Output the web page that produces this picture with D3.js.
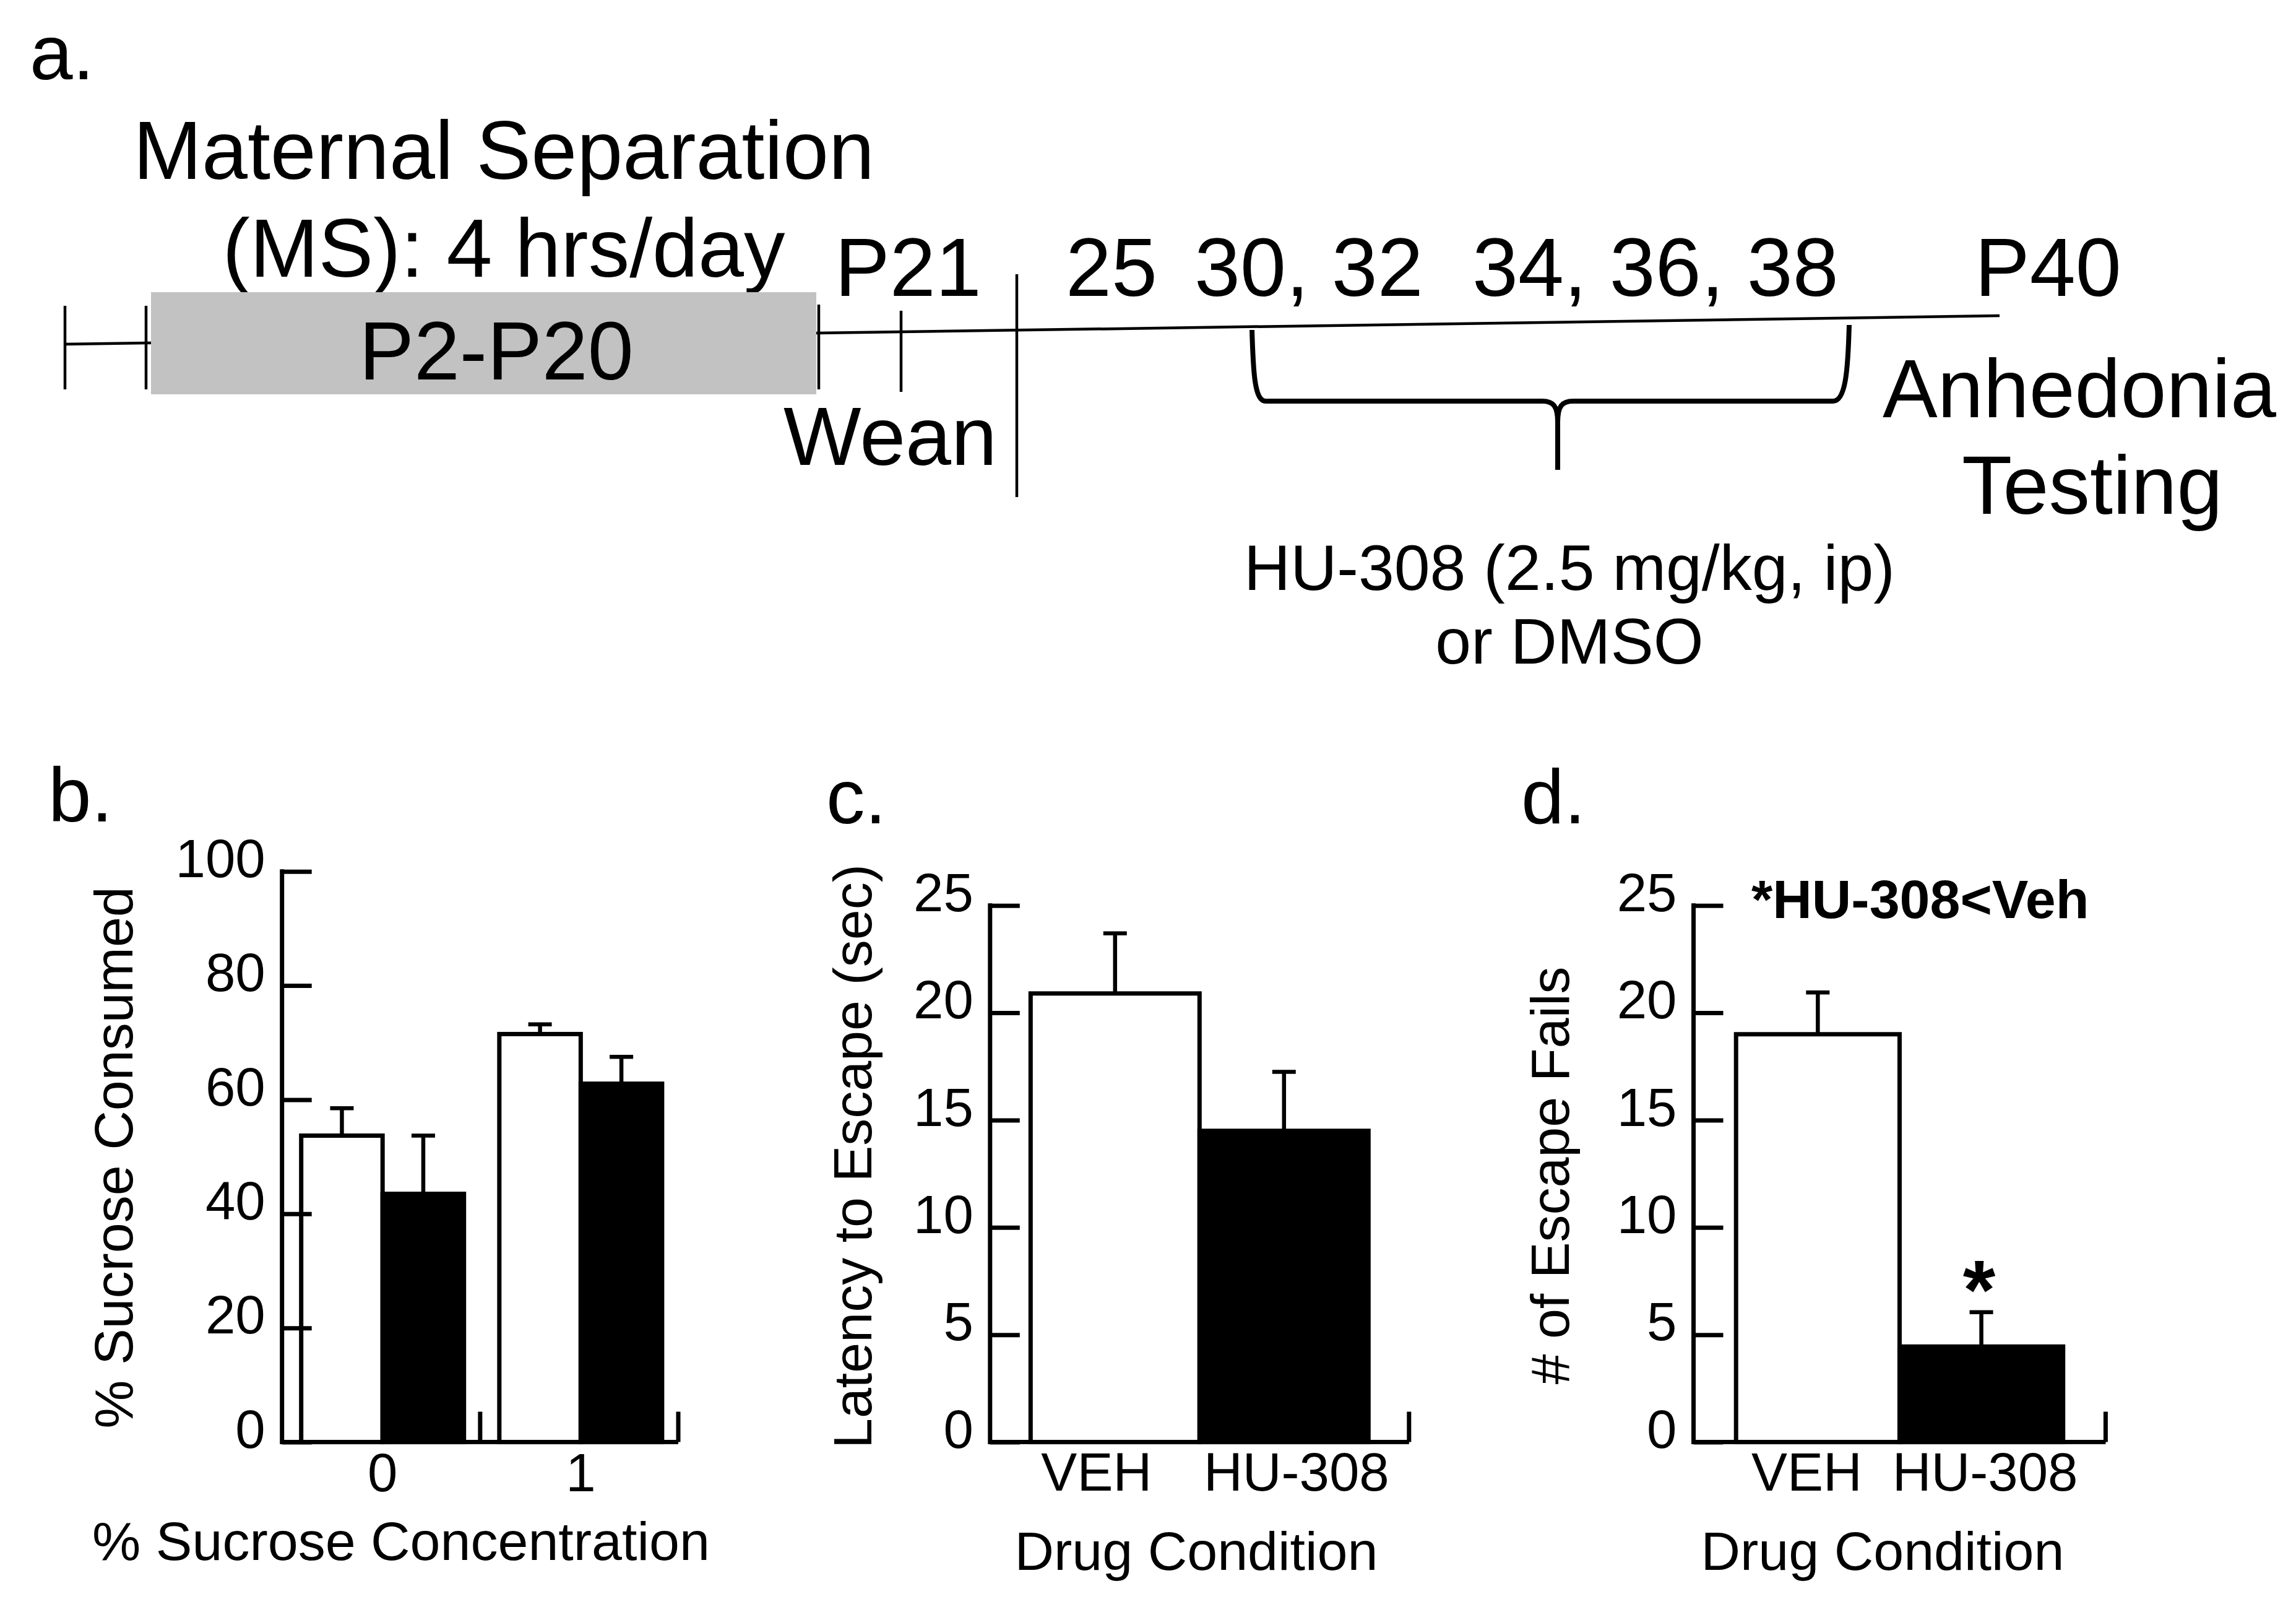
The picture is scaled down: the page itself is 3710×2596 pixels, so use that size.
<!DOCTYPE html>
<html>
<head>
<meta charset="utf-8">
<script src="https://cdn.jsdelivr.net/npm/d3@7"></script>
<style>
  body { margin: 0; background: #fff; }
  text { font-family: "Liberation Sans", Arial, Helvetica, sans-serif; fill: #000; }
</style>
</head>
<body>
<svg id="fig"></svg>
<script>
// ---- data ----
// b. sucrose preference
var sucroseConc = ["0", "1"];
var sucroseGroups = ["VEH", "HU-308"];
var sucroseMean = [[53.7, 43.5], [71.5, 62.8]];
var sucroseErr = [[4.8, 10.2], [1.7, 4.7]];
var sucroseTicks = [0, 20, 40, 60, 80, 100];

// c. latency to escape, d. escape fails
var drugConds = ["VEH", "HU-308"];
var latencyMean = [20.9, 14.5];
var latencyErr = [2.8, 2.75];
var failsMean = [19.0, 4.45];
var failsErr = [1.95, 1.6];
var escapeTicks = [0, 5, 10, 15, 20, 25];

// a. timeline labels
var dayLabels = ["P21", "25", "30, 32", "34, 36, 38", "P40"];
var msLines = ["Maternal Separation", "(MS): 4 hrs/day"];
var testLines = ["Anhedonia", "Testing"];
var drugLines = ["HU-308 (2.5 mg/kg, ip)", "or DMSO"];

var FONT = "'Liberation Sans', Arial, Helvetica, sans-serif";
var STROKE = 7;
var svg = d3.select("#fig").attr("width", 3710).attr("height", 2596);

// ---------------- panel a: timeline ----------------
var a = svg.append("g");

a.append("text").attr("x", 48).attr("y", 128).attr("font-size", 125).text("a.");

// the main line runs slightly uphill
a.append("line").attr("x1", 105).attr("y1", 556).attr("x2", 3231).attr("y2", 510)
  .attr("stroke", "#000").attr("stroke-width", 4.5);

// separation text (box is drawn over its descenders)
a.selectAll(".ms").data(msLines).enter().append("text")
  .attr("x", 814).attr("y", function(d, i) { return i == 0 ? 289 : 447; })
  .attr("text-anchor", "middle").attr("font-size", 133).text(function(d) { return d; });

a.append("rect").attr("x", 244).attr("y", 472).attr("width", 1075).attr("height", 165)
  .attr("fill", "#c2c2c2");
a.append("text").attr("x", 802).attr("y", 613).attr("text-anchor", "middle")
  .attr("font-size", 133).text("P2-P20");

// vertical marks on the timeline
var marks = [[105, 494, 629], [236, 494, 629], [1323, 492, 629], [1456, 502, 633], [1643, 443, 803]];
a.selectAll(".mark").data(marks).enter().append("line")
  .attr("x1", function(d) { return d[0]; }).attr("x2", function(d) { return d[0]; })
  .attr("y1", function(d) { return d[1]; }).attr("y2", function(d) { return d[2]; })
  .attr("stroke", "#000").attr("stroke-width", 4.5);

var dayX = [1349, 1722, 1930, 2379, 3191];
a.selectAll(".day").data(dayLabels).enter().append("text")
  .attr("x", function(d, i) { return dayX[i]; }).attr("y", 478)
  .attr("font-size", 133).text(function(d) { return d; });

a.append("text").attr("x", 1266).attr("y", 751).attr("font-size", 133).text("Wean");

a.selectAll(".test").data(testLines).enter().append("text")
  .attr("x", function(d, i) { return i == 0 ? 3042 : 3170; })
  .attr("y", function(d, i) { return i == 0 ? 674 : 830; })
  .attr("font-size", 133).text(function(d) { return d; });

// injection bracket
var br = d3.path();
br.moveTo(2023, 533);
br.bezierCurveTo(2025, 600, 2027, 648, 2045, 648);
br.lineTo(2492, 648);
br.bezierCurveTo(2510, 648, 2517, 656, 2517, 682);
br.lineTo(2517, 759);
br.moveTo(2517, 682);
br.bezierCurveTo(2517, 656, 2524, 648, 2542, 648);
br.lineTo(2962, 648);
br.bezierCurveTo(2982, 648, 2986, 600, 2988, 525);
a.append("path").attr("d", br.toString()).attr("fill", "none")
  .attr("stroke", "#000").attr("stroke-width", 8);

a.selectAll(".drug").data(drugLines).enter().append("text")
  .attr("x", 2536).attr("y", function(d, i) { return i == 0 ? 953 : 1072; })
  .attr("text-anchor", "middle").attr("font-size", 104).text(function(d) { return d; });

// ---------------- shared axis helper ----------------
function drawAxes(g, y, x0, xEnd, ticks, upticks) {
  var y0 = y.range()[0], yTop = y.range()[1];
  var ax = g.append("g").attr("transform", "translate(" + x0 + ",0)")
    .call(d3.axisLeft(y).tickValues(ticks).tickSize(-48).tickPadding(27).tickSizeOuter(0));
  ax.select(".domain").remove();
  ax.attr("font-size", 87).attr("font-family", FONT);
  ax.selectAll(".tick line").attr("stroke", "#000").attr("stroke-width", STROKE);
  ax.selectAll(".tick text").attr("dy", "0.1em").attr("fill", "#000");

  var p = d3.path();
  p.moveTo(x0, yTop - STROKE / 2);
  p.lineTo(x0, y0);
  p.lineTo(xEnd, y0);
  upticks.forEach(function(u) { p.moveTo(u, y0); p.lineTo(u, y0 - 49); });
  g.append("path").attr("d", p.toString()).attr("fill", "none")
    .attr("stroke", "#000").attr("stroke-width", STROKE);
}

function errBar(g, cx, yTop, yErr) {
  g.append("line").attr("x1", cx).attr("x2", cx).attr("y1", yTop).attr("y2", yErr)
    .attr("stroke", "#000").attr("stroke-width", 6.5);
  g.append("line").attr("x1", cx - 19).attr("x2", cx + 19).attr("y1", yErr).attr("y2", yErr)
    .attr("stroke", "#000").attr("stroke-width", 6.5);
}

var fills = ["#fff", "#000"];

// ---------------- panel b ----------------
var b = svg.append("g");
b.append("text").attr("x", 78).attr("y", 1327).attr("font-size", 125).text("b.");

var yB = d3.scaleLinear().domain([0, 100]).range([2329.6, 1407.7]);
var xB = d3.scaleBand().domain(sucroseConc).range([455.7, 1096]);
var xBsub = d3.scaleBand().domain(sucroseGroups).range([31, 294]);

sucroseConc.forEach(function(c, gi) {
  sucroseGroups.forEach(function(s, si) {
    var bx = xB(c) + xBsub(s);
    errBar(b, bx + xBsub.bandwidth() / 2, yB(sucroseMean[gi][si]), yB(sucroseMean[gi][si] + sucroseErr[gi][si]));
    b.append("rect").attr("x", bx).attr("y", yB(sucroseMean[gi][si]))
      .attr("width", xBsub.bandwidth()).attr("height", yB(0) - yB(sucroseMean[gi][si]))
      .attr("fill", fills[si]).attr("stroke", "#000").attr("stroke-width", STROKE);
  });
});
drawAxes(b, yB, 455.7, 1096, sucroseTicks, sucroseConc.map(function(c) { return xB(c) + xB.step(); }));

b.selectAll(".xl").data(sucroseConc).enter().append("text")
  .attr("x", function(d) { return xB(d) + 31 + 131.5; }).attr("y", 2409)
  .attr("text-anchor", "middle").attr("font-size", 87).text(function(d) { return d; });
b.append("text").attr("x", 648).attr("y", 2520).attr("text-anchor", "middle")
  .attr("font-size", 88).text("% Sucrose Concentration");
b.append("text").attr("transform", "translate(214,1870) rotate(-90)")
  .attr("text-anchor", "middle").attr("font-size", 88).text("% Sucrose Consumed");

// ---------------- panels c and d ----------------
function drugPanel(label, lx, x0, xEnd, pad, means, errs, yTitle, titleX, titleY, labelShift, xTitleX) {
  var g = svg.append("g");
  g.append("text").attr("x", lx).attr("y", 1330).attr("font-size", 125).text(label);
  var y = d3.scaleLinear().domain([0, 25]).range([2329.6, 1462.7]);
  var x = d3.scaleBand().domain(drugConds).range([x0, xEnd]).paddingInner(0).paddingOuter(pad);
  drugConds.forEach(function(d, i) {
    errBar(g, x(d) + x.bandwidth() / 2, y(means[i]), y(means[i] + errs[i]));
    g.append("rect").attr("x", x(d)).attr("y", y(means[i]))
      .attr("width", x.bandwidth()).attr("height", y(0) - y(means[i]))
      .attr("fill", fills[i]).attr("stroke", "#000").attr("stroke-width", STROKE);
  });
  drawAxes(g, y, x0, xEnd, escapeTicks, [xEnd]);
  g.selectAll(".xl").data(drugConds).enter().append("text")
    .attr("x", function(d, i) { return x(d) + x.bandwidth() / 2 + labelShift[i]; })
    .attr("y", 2408).attr("text-anchor", "middle").attr("font-size", 87)
    .text(function(d) { return d; });
  g.append("text").attr("x", xTitleX).attr("y", 2536).attr("text-anchor", "middle")
    .attr("font-size", 88).text("Drug Condition");
  g.append("text").attr("transform", "translate(" + titleX + "," + titleY + ") rotate(-90)")
    .attr("text-anchor", "middle").attr("font-size", 88).text(yTitle);
  return { g: g, x: x, y: y };
}

drugPanel("c.", 1335, 1599.8, 2276.8, 0.24, latencyMean, latencyErr,
  "Latency to Escape (sec)", 1408, 1868, [-30, 20], 1933);

var d = drugPanel("d.", 2458, 2736.5, 3402.4, 0.26, failsMean, failsErr,
  "# of Escape Fails", 2535, 1899, [-18, 6], 3042);

// significance marks
d.g.append("text").attr("x", 3198).attr("y", 2130).attr("text-anchor", "middle")
  .attr("font-size", 135).attr("font-weight", "bold").text("*");
d.g.append("text").attr("x", 2830).attr("y", 1483)
  .attr("font-size", 88).attr("font-weight", "bold").text("*HU-308<Veh");
</script>
</body>
</html>
